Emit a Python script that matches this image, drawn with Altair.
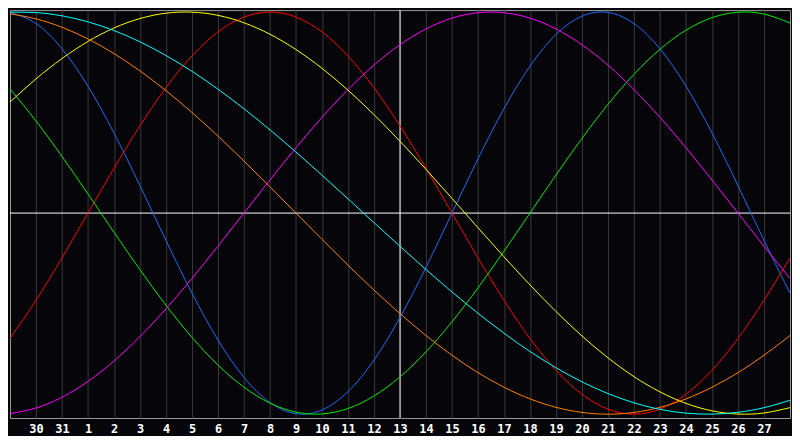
import altair as alt
import pandas as pd

# x positions (day index across the window) and their date labels
day_index = list(range(31))
day_labels = ["29", "30", "31", "1", "2", "3", "4", "5", "6", "7", "8", "9", "10", "11",
              "12", "13", "14", "15", "16", "17", "18", "19", "20", "21", "22", "23",
              "24", "25", "26", "27", "28"]
label_ticks = list(range(1, 30))
today_index = [15]

# cycle values, one per day
blue_23 = [0.9977, 0.9423, 0.8170, 0.6312, 0.3984, 0.1362, -0.1362, -0.3984, -0.6312, -0.8170,
           -0.9423, -0.9977, -0.9791, -0.8879, -0.7309, -0.5196, -0.2698, 0.0, 0.2698, 0.5196,
           0.7309, 0.8879, 0.9791, 0.9977, 0.9423, 0.8170, 0.6312, 0.3984, 0.1362, -0.1362, -0.3984]
red_28 = [-0.6235, -0.4339, -0.2225, 0.0, 0.2225, 0.4339, 0.6235, 0.7818, 0.9010, 0.9749,
          1.0, 0.9749, 0.9010, 0.7818, 0.6235, 0.4339, 0.2225, 0.0, -0.2225, -0.4339,
          -0.6235, -0.7818, -0.9010, -0.9749, -1.0, -0.9749, -0.9010, -0.7818, -0.6235, -0.4339, -0.2225]
green_33 = [0.6181, 0.4582, 0.2817, 0.0950, -0.0950, -0.2817, -0.4582, -0.6181, -0.7557, -0.8660,
            -0.9450, -0.9898, -0.9989, -0.9718, -0.9096, -0.8146, -0.6901, -0.5406, -0.3717, -0.1893,
            0.0, 0.1893, 0.3717, 0.5406, 0.6901, 0.8146, 0.9096, 0.9718, 0.9989, 0.9898, 0.9450]
magenta_38 = [-0.9966, -0.9694, -0.9158, -0.8372, -0.7357, -0.6142, -0.4759, -0.3247, -0.1646, 0.0,
              0.1646, 0.3247, 0.4759, 0.6142, 0.7357, 0.8372, 0.9158, 0.9694, 0.9966, 0.9966,
              0.9694, 0.9158, 0.8372, 0.7357, 0.6142, 0.4759, 0.3247, 0.1646, 0.0, -0.1646, -0.3247]
yellow_43 = [0.5518, 0.6673, 0.7686, 0.8536, 0.9204, 0.9675, 0.9940, 0.9993, 0.9834, 0.9464,
             0.8893, 0.8133, 0.7199, 0.6112, 0.4894, 0.3572, 0.2174, 0.0730, -0.0730, -0.2174,
             -0.3572, -0.4894, -0.6112, -0.7199, -0.8133, -0.8893, -0.9464, -0.9834, -0.9993, -0.9940, -0.9675]
orange_48 = [0.9914, 0.9659, 0.9239, 0.8660, 0.7934, 0.7071, 0.6088, 0.5, 0.3827, 0.2588,
             0.1305, 0.0, -0.1305, -0.2588, -0.3827, -0.5, -0.6088, -0.7071, -0.7934, -0.8660,
             -0.9239, -0.9659, -0.9914, -1.0, -0.9914, -0.9659, -0.9239, -0.8660, -0.7934, -0.7071, -0.6088]
cyan_53 = [0.9991, 0.9970, 0.9809, 0.9511, 0.9078, 0.8518, 0.7837, 0.7050, 0.6162, 0.5187,
           0.4139, 0.3034, 0.1885, 0.0711, -0.0474, -0.1652, -0.2807, -0.3922, -0.4982, -0.5973,
           -0.6883, -0.7690, -0.8393, -0.8976, -0.9435, -0.9761, -0.9949, -0.9998, -0.9907, -0.9677, -0.9311]

series_names = ["Physical", "Emotional", "Intellectual", "Intuitive", "Aesthetic", "Awareness", "Spiritual"]
series_values = [blue_23, red_28, green_33, magenta_38, yellow_43, orange_48, cyan_53]
series_colors = ["#1a6bff", "#ff0000", "#00ee00", "#ff00ff", "#ffff00", "#ff8000", "#00ffff"]

rows = []
for name, vals in zip(series_names, series_values):
    for i, v in zip(day_index, vals):
        rows.append({"idx": i, "value": v, "series": name})
df = pd.DataFrame(rows)

xscale = alt.Scale(domain=[0, 30], nice=False, zero=False)
yscale = alt.Scale(domain=[-1.019, 1.0095], nice=False, zero=False)

label_expr = "[" + ",".join("'" + d + "'" for d in day_labels) + "][datum.value]"
xaxis = alt.Axis(values=label_ticks, labelExpr=label_expr, grid=True, gridColor="#3a3a3a",
                 gridWidth=1, ticks=False, domain=False, labelColor="#ffffff",
                 labelFont="DejaVu Sans Mono", labelFontWeight="bold", labelFontSize=12,
                 labelPadding=6, labelAngle=0, title=None)

vrule = alt.Chart(pd.DataFrame({"idx": today_index})).mark_rule(
    color="#ffffff", strokeWidth=1
).encode(x=alt.X("idx:Q", scale=xscale, axis=xaxis))

hrule = alt.Chart(pd.DataFrame({"value": [0.0]})).mark_rule(
    color="#ffffff", strokeWidth=1
).encode(y=alt.Y("value:Q", scale=yscale, axis=None))

lines = alt.Chart(df).mark_line(strokeWidth=1, interpolate="natural").encode(
    x=alt.X("idx:Q", scale=xscale, axis=xaxis),
    y=alt.Y("value:Q", scale=yscale, axis=None),
    color=alt.Color("series:N", scale=alt.Scale(domain=series_names, range=series_colors), legend=None),
)

chart = alt.layer(vrule, hrule, lines).properties(
    width=784, height=410, background="#06060a",
    padding={"left": 0, "top": 0, "right": 0, "bottom": 0},
).configure_view(stroke="#9a9a9a", strokeWidth=1)

chart.save("out.html", embed_options={"renderer": "svg", "actions": False})
